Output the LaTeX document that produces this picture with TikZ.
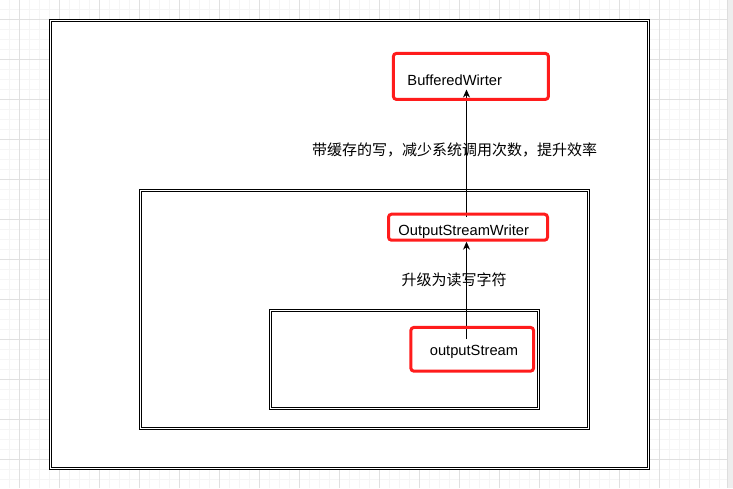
\documentclass[tikz,border=0pt]{standalone}
\usepackage{fontspec}
\setmainfont{Liberation Sans}
\newfontfamily\cjk{Noto Sans CJK SC}
\usetikzlibrary{arrows.meta, backgrounds}
\definecolor{boxred}{RGB}{255, 28, 28}
\definecolor{gridmajor}{RGB}{224, 224, 224}
\definecolor{gridminor}{RGB}{245, 245, 245}
\definecolor{scrollgray}{RGB}{238, 238, 238}
\definecolor{scrolledge}{RGB}{222, 222, 222}

\begin{document}
\begin{tikzpicture}[
      x=1pt, y=-1pt,
      frame/.style={
        draw=black, fill=white, double=white,
        line width=1pt, double distance=1pt
      },
      redbox/.style={
        draw=boxred, line width=3pt, rounded corners=3pt, inner sep=0pt
      },
      lbl/.style={inner sep=0pt, font=\fontsize{14.7}{17}\selectfont},
      arr/.style={-{Stealth[length=8pt, width=7pt, inset=2.5pt]}, line width=1pt, black}
    ]
      \useasboundingbox (0,0) rectangle (733,488);

      \begin{pgfonlayer}{background}
        \fill[white] (0,0) rectangle (733,488);
        % grid
        \foreach \gx in {9.5,19.5,...,729.5}
          \draw[gridminor, line width=1pt] (\gx,0) -- (\gx,488);
        \foreach \gy in {9.5,19.5,...,479.5}
          \draw[gridminor, line width=1pt] (0,\gy) -- (733,\gy);
        \foreach \gx in {19.5,59.5,...,699.5}
          \draw[gridmajor, line width=1pt] (\gx,0) -- (\gx,488);
        \foreach \gy in {19.5,59.5,...,459.5}
          \draw[gridmajor, line width=1pt] (0,\gy) -- (733,\gy);
        \fill[scrollgray] (727.5,0) rectangle (733,488);
        \draw[scrolledge, line width=1pt] (727.5,0) -- (727.5,488);

        \draw[frame] (50.5,20.5) rectangle (648.5,468.5);
        \draw[frame] (140.5,190.5) rectangle (588,428.5);
        \draw[frame] (270.5,310.5) rectangle (538.5,408.5);
      \end{pgfonlayer}

      \node[redbox, minimum width=155pt, minimum height=46pt] (bwbox) at (470.9,76.4) {};
      \node[redbox, minimum width=159pt, minimum height=26pt] (oswbox) at (468,227.2) {};
      \node[redbox, minimum width=122.7pt, minimum height=43.7pt] (osbox) at (472.2,349.3) {};

      \node[lbl, anchor=base] (bwtext) at (454.7,85) {BufferedWirter};
      \node[lbl, anchor=base] (oswtext) at (463.7,235) {OutputStreamWriter};
      \node[lbl, anchor=base] (ostext) at (474,355) {outputStream};

      \node[lbl, font=\cjk\fontsize{15}{17}\selectfont] (buflbl) at (454.7,150) {带缓存的写，减少系统调用次数，提升效率};
      \node[lbl, font=\cjk\fontsize{15}{17}\selectfont] (uplbl) at (454.2,280) {升级为读写字符};

      \coordinate (ostail) at (466.5,339);
      \coordinate (oswtail) at (466.5,217);
      \coordinate (bwhead) at (466.5,89.5);

      \begin{pgfonlayer}{background}
        \draw[arr] (ostail) -- (ostail |- oswbox.south);
        \draw[arr] (oswtail) -- (bwhead);
      \end{pgfonlayer}
    \end{tikzpicture}
\end{document}
